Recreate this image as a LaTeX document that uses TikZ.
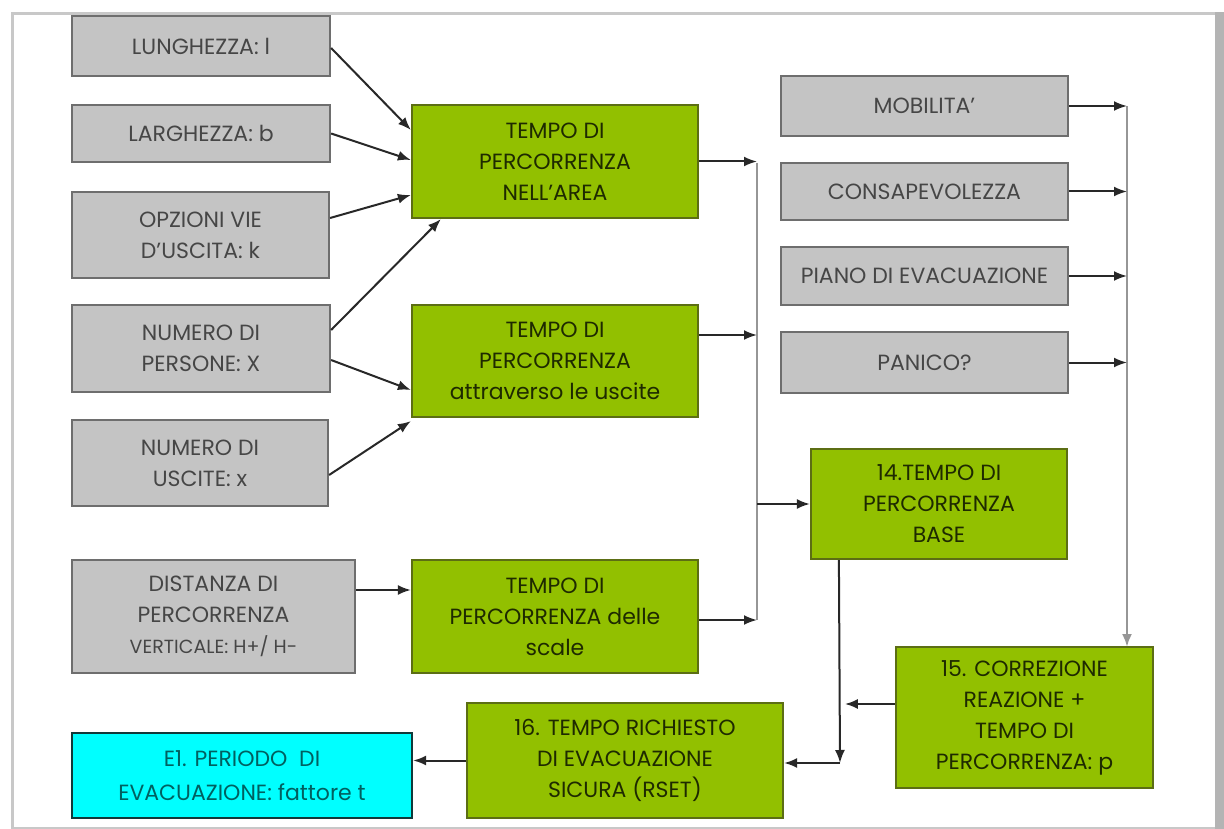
\documentclass[tikz,border=0pt]{standalone}
\usepackage{fontspec}
\setmainfont{Poppins}
\usetikzlibrary{arrows.meta}
\definecolor{boxgray}{RGB}{196,196,196}
\definecolor{edgegray}{RGB}{110,110,110}
\definecolor{txtgray}{RGB}{70,70,70}
\definecolor{boxgreen}{RGB}{146,192,0}
\definecolor{edgegreen}{RGB}{92,110,20}
\definecolor{txtgreen}{RGB}{30,42,0}
\definecolor{boxcyan}{RGB}{0,255,255}
\definecolor{edgecyan}{RGB}{16,58,58}
\definecolor{txtcyan}{RGB}{0,96,96}
\definecolor{framegray}{RGB}{200,200,200}
\definecolor{busgray}{RGB}{150,150,150}
\definecolor{linedark}{RGB}{40,40,40}
\begin{document}
\begin{tikzpicture}[x=1pt,y=-1pt,
  basebox/.style={rectangle, line width=2.2pt, align=center, inner sep=2pt,
    font=\fontsize{22}{31}\selectfont},
  graybox/.style={basebox, fill=boxgray, draw=edgegray, text=txtgray},
  greenbox/.style={basebox, fill=boxgreen, draw=edgegreen, text=txtgreen},
  cyanbox/.style={basebox, fill=boxcyan, draw=edgecyan, text=txtcyan,
    font=\fontsize{22}{34}\selectfont},
  conn/.style={draw=linedark, line width=2pt, -{Latex[length=13pt,width=10pt]}},
  busline/.style={draw=busgray, line width=2.4pt}]
\useasboundingbox (0,0) rectangle (1224,829);

% outer frame
\draw[framegray, line width=3pt] (12,13.5) rectangle (1217,828);
\fill[framegray!90!black] (1215,12) rectangle (1224,829);

% input quantities (left column)
\node[graybox, minimum width=258pt, minimum height=60pt] (lung) at (201,46) {LUNGHEZZA: l};
\node[graybox, minimum width=258pt, minimum height=57pt] (larg) at (201,133.5) {LARGHEZZA: b};
\node[graybox, minimum width=257pt, minimum height=86pt] (opz) at (200.5,235) {OPZIONI VIE\\D'USCITA: k};
\node[graybox, minimum width=258pt, minimum height=87pt] (pers) at (201,348.5) {NUMERO DI\\PERSONE: X};
\node[graybox, minimum width=256pt, minimum height=86pt] (usc) at (200,463) {NUMERO DI\\USCITE: x};
\node[graybox, minimum width=283pt, minimum height=113pt] (dist) at (213.5,616.5)
  {DISTANZA DI\\PERCORRENZA\\{\fontsize{19}{24}\selectfont VERTICALE: H+/ H-}};
\node[cyanbox, minimum width=340pt, minimum height=85pt] (e1) at (242,775.5)
  {E1. PERIODO\ \ DI\\EVACUAZIONE: fattore t};

% travel time blocks
\node[greenbox, minimum width=286pt, minimum height=113pt] (tarea) at (555,161.5)
  {TEMPO DI\\PERCORRENZA\\NELL'AREA};
\node[greenbox, minimum width=286pt, minimum height=112pt] (tusc) at (555,361)
  {TEMPO DI\\PERCORRENZA\\attraverso le uscite};
\node[greenbox, minimum width=286pt, minimum height=113pt] (tscale) at (555,616.5)
  {TEMPO DI\\PERCORRENZA delle\\scale};
\node[greenbox, minimum width=316pt, minimum height=115pt] (rset) at (625,760.5)
  {16. TEMPO RICHIESTO\\DI EVACUAZIONE\\SICURA (RSET)};
\node[greenbox, minimum width=256pt, minimum height=110pt] (tbase) at (939,504)
  {14.TEMPO DI\\PERCORRENZA\\BASE};
\node[greenbox, minimum width=257pt, minimum height=141pt] (corr) at (1024.5,717.5)
  {15. CORREZIONE\\REAZIONE +\\TEMPO DI\\PERCORRENZA: p};

% behavioural factors (right column)
\node[graybox, minimum width=287pt, minimum height=60pt] (mob) at (924.5,106) {MOBILITA'};
\node[graybox, minimum width=287pt, minimum height=57pt] (cons) at (924.5,191.5) {CONSAPEVOLEZZA};
\node[graybox, minimum width=287pt, minimum height=58pt] (piano) at (924.5,276) {PIANO DI EVACUAZIONE};
\node[graybox, minimum width=287pt, minimum height=61pt] (pan) at (924.5,362.5) {PANICO?};

% collector lines
\coordinate (busLtop) at (757,163);
\coordinate (busLbot) at (757,620);
\coordinate (busRtop) at (1127,106);
\coordinate (busRbot) at (1127,647);
\coordinate (corner) at (840,763);

% inputs to the travel time blocks
\draw[conn] ([yshift=-2pt]lung.east) -- ([yshift=31.5pt]tarea.west);
\draw[conn] (larg.east) -- ([yshift=1.5pt]tarea.west);
\draw[conn] ([yshift=17pt]opz.east) -- ([yshift=-33.5pt]tarea.west);
\draw[conn] ([yshift=18.5pt]pers.east) -- ([xshift=30pt]tarea.south west);
\draw[conn] ([yshift=-11.5pt]pers.east) -- ([yshift=-29pt]tusc.west);
\draw[conn] ([yshift=-12pt]usc.east) -- ([yshift=-3pt]tusc.south west);
\draw[conn] ([yshift=26.5pt]dist.east) -- ([yshift=26.5pt]tscale.west);

% left collector into the base travel time
\draw[busline] (busLtop) -- (busLbot);
\draw[conn] (tarea.east) -- (tarea.east -| busLtop);
\draw[conn] ([yshift=26pt]tusc.east) -- ([yshift=26pt]tusc.east -| busLtop);
\draw[conn] ([yshift=-3.5pt]tscale.east) -- ([yshift=-3.5pt]tscale.east -| busLtop);
\draw[conn] (tbase.west -| busLtop) -- (tbase.west);

% right collector into the correction
\draw[conn, draw=busgray, line width=2.4pt] (busRtop) -- (busRbot);
\draw[conn] (mob.east) -- (mob.east -| busRtop);
\draw[conn] (cons.east) -- (cons.east -| busRtop);
\draw[conn] (piano.east) -- (piano.east -| busRtop);
\draw[conn] (pan.east) -- (pan.east -| busRtop);

% towards the required safe escape time
\draw[conn] ([xshift=29pt]tbase.south west) -- (corner);
\draw[conn] ([yshift=13.5pt]corr.west) -- ([yshift=13.5pt,xshift=-50pt]corr.west);
\draw[conn] (corner) -- (corner -| rset.east);
\draw[conn] (rset.west) -- (rset.west -| e1.east);
\end{tikzpicture}
\end{document}
